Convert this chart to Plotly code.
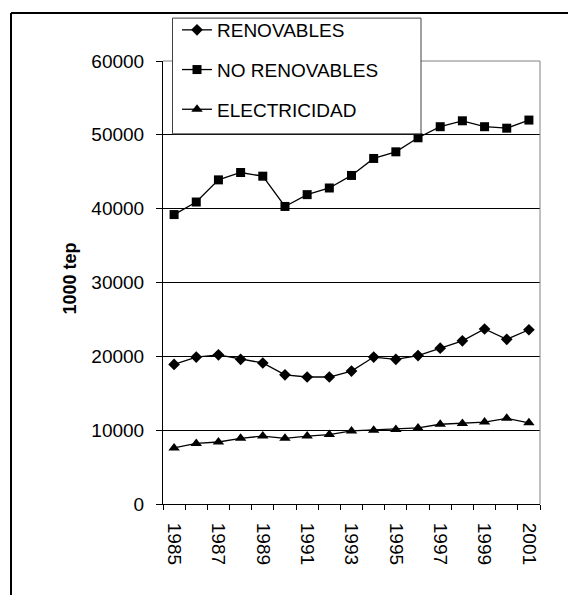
import plotly.graph_objects as go

# Energy consumption by source, thousand tep
years = [1985, 1986, 1987, 1988, 1989, 1990, 1991, 1992, 1993,
         1994, 1995, 1996, 1997, 1998, 1999, 2000, 2001]
renovables = [18900, 19900, 20200, 19600, 19100, 17500, 17200, 17200, 18000,
              19900, 19600, 20100, 21100, 22100, 23700, 22300, 23600]
no_renovables = [39200, 40900, 43900, 44900, 44400, 40300, 41900, 42800, 44500,
                 46800, 47700, 49600, 51100, 51900, 51100, 50900, 52000]
electricidad = [7600, 8200, 8400, 8900, 9200, 8900, 9200, 9400, 9900,
                10000, 10100, 10300, 10800, 10900, 11100, 11600, 11000]
tick_years = [1985, 1987, 1989, 1991, 1993, 1995, 1997, 1999, 2001]
y_ticks = [0, 10000, 20000, 30000, 40000, 50000, 60000]

W, H = 568, 595
L, R, T, B = 163, 540, 60, 504
FONT = "Liberation Sans, Arial, sans-serif"
FS = 19


def px(x):
    return (x - L) / (R - L)


def py(y):
    return (B - y) / (B - T)


series = [
    ("RENOVABLES", renovables, "diamond", 9),
    ("NO RENOVABLES", no_renovables, "square", 9),
    ("ELECTRICIDAD", electricidad, "triangle-up", 10),
]

fig = go.Figure()
for name, vals, sym, size in series:
    fig.add_trace(go.Scatter(
        x=years, y=vals, name=name, legendgroup=name,
        mode="lines+markers",
        line=dict(color="black", width=1.3),
        marker=dict(symbol=sym, size=size, color="black"),
    ))

fig.update_layout(
    width=W, height=H,
    margin=dict(l=L, r=W - R, t=T, b=H - B, pad=0),
    paper_bgcolor="white", plot_bgcolor="white",
    font=dict(family=FONT, size=FS, color="black"),
    showlegend=True,
    legend=dict(
        x=px(177), y=py(11), xanchor="left", yanchor="top",
        bgcolor="rgba(0,0,0,0)", borderwidth=0,
        tracegroupgap=12, traceorder="grouped",
        font=dict(family=FONT, size=FS, color="black"),
    ),
    xaxis=dict(
        range=[1984.5, 2001.5], tickvals=tick_years,
        ticktext=[str(y) for y in tick_years],
        tickangle=90, ticks="", ticklabelstandoff=14,
        showgrid=False, zeroline=False,
        showline=True, linecolor="black", linewidth=1,
        minor=dict(ticks="outside", tick0=1984.5, dtick=1,
                   ticklen=5, tickcolor="black", showgrid=False),
        tickfont=dict(size=FS),
    ),
    yaxis=dict(
        range=[0, 60000], tickvals=y_ticks,
        ticktext=[str(v) for v in y_ticks],
        ticks="outside", ticklen=6, tickcolor="black",
        ticklabelstandoff=8,
        showgrid=True, gridcolor="black", gridwidth=1,
        zeroline=False, showline=True, linecolor="black", linewidth=1,
        tickfont=dict(size=FS),
    ),
    annotations=[dict(
        text="<b>1000 tep</b>", textangle=-90,
        xref="paper", yref="paper", x=px(70), y=py(278),
        xanchor="center", yanchor="middle", showarrow=False,
        font=dict(family=FONT, size=18, color="black"),
    )],
    shapes=[
        # grey frame on the top and right of the plot area
        dict(type="line", xref="paper", yref="paper", x0=0, x1=1, y0=1, y1=1,
             line=dict(color="#808080", width=1), layer="above"),
        dict(type="line", xref="paper", yref="paper", x0=1, x1=1, y0=0, y1=1,
             line=dict(color="#808080", width=1), layer="above"),
        # legend box
        dict(type="rect", xref="paper", yref="paper",
             x0=px(172.5), x1=px(421), y0=py(133), y1=py(17),
             fillcolor="white", line=dict(color="#404040", width=1), layer="above"),
        # outer chart border (top and left edges)
        dict(type="line", xref="paper", yref="paper",
             x0=px(11), x1=px(W + 2), y0=py(12), y1=py(12),
             line=dict(color="black", width=2), layer="above"),
        dict(type="line", xref="paper", yref="paper",
             x0=px(11), x1=px(11), y0=py(12), y1=py(H + 2),
             line=dict(color="black", width=2), layer="above"),
    ],
)

fig.write_html("out.html")
